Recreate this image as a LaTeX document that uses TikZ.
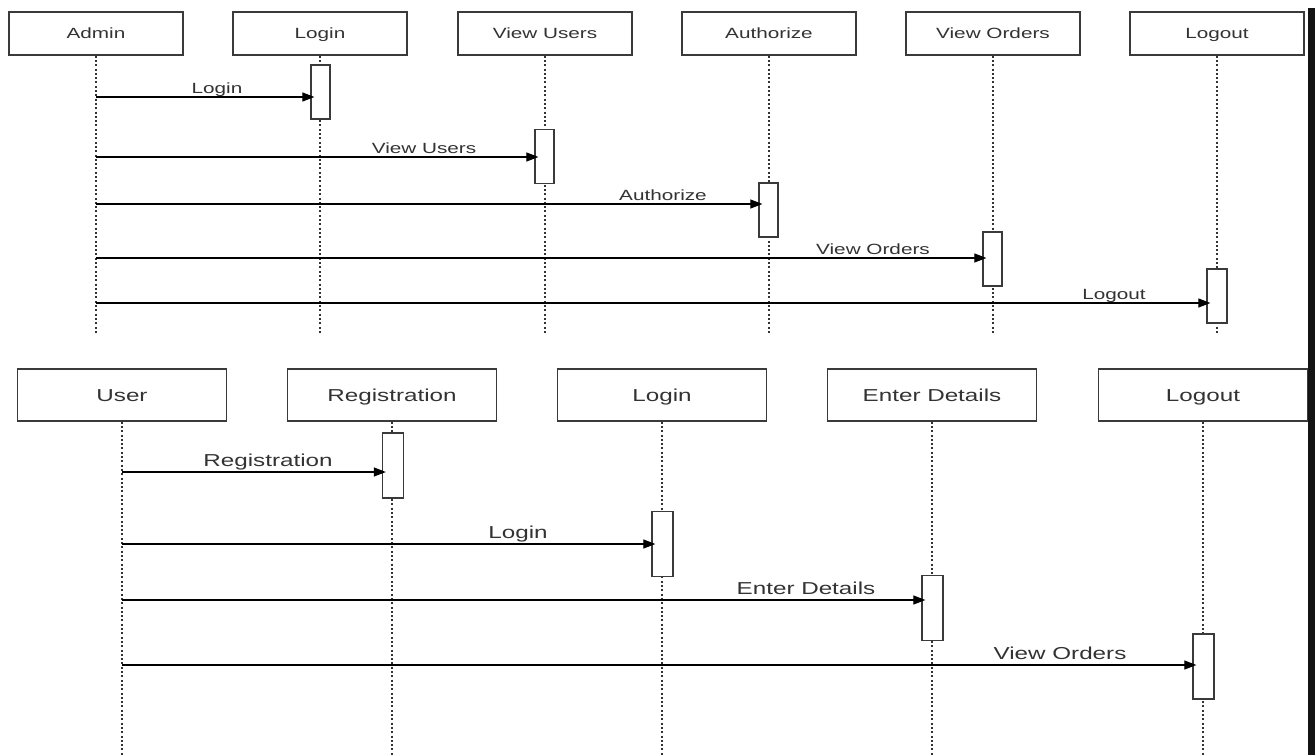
\documentclass[tikz,border=0pt]{standalone}
\usepackage{fontspec}
\setmainfont{Liberation Sans}
\newfontfamily\diagfont[FakeStretch=1.4]{Liberation Sans}
\usetikzlibrary{arrows.meta}
\definecolor{txt}{HTML}{333333}
\definecolor{edge}{HTML}{3A3A3A}
\begin{document}
\begin{tikzpicture}[x=1pt,y=-1pt,
  objtop/.style={draw=edge,line width=1.3pt,fill=white,minimum width=174pt,minimum height=43pt,
    inner sep=0pt,text height=10.6pt,text depth=0pt,text=txt,font=\diagfont\fontsize{14.8}{16}\selectfont},
  objbot/.style={draw=edge,line width=1.3pt,fill=white,minimum width=209pt,minimum height=52pt,
    inner sep=0pt,text height=12.4pt,text depth=0pt,text=txt,font=\diagfont\fontsize{17.3}{19}\selectfont},
  acttop/.style={draw=edge,line width=1.3pt,fill=white,minimum width=19pt,minimum height=54pt,inner sep=0pt},
  actbot/.style={draw=edge,line width=1.3pt,fill=white,minimum width=21pt,minimum height=65pt,inner sep=0pt},
  lifeline/.style={line width=1.7pt,black!80,dash pattern=on 2pt off 2.3pt},
  msg/.style={line width=1.2pt,black,-{Triangle[length=12pt,width=9pt]},shorten >=-4pt},
  lbltop/.style={anchor=base,inner sep=0pt,text=txt,font=\diagfont\fontsize{14.8}{16}\selectfont},
  lblbot/.style={anchor=base,inner sep=0pt,text=txt,font=\diagfont\fontsize{17.3}{19}\selectfont}]
\useasboundingbox (0,0) rectangle (1315,755);
\fill[white] (0,0) rectangle (1315,755);

% ---------- Admin sequence ----------
\node[objtop] (admin)  at (96,33.5)   {Admin};
\node[objtop] (alogin) at (320,33.5)  {Login};
\node[objtop] (aview)  at (545,33.5)  {View Users};
\node[objtop] (aauth)  at (769,33.5)  {Authorize};
\node[objtop] (aord)   at (993,33.5)  {View Orders};
\node[objtop] (alogo)  at (1217,33.5) {Logout};

\foreach \n in {admin,alogin,aview,aauth,aord,alogo}
  \draw[lifeline] (\n.south) -- (\n.south |- 0,335);

\node[acttop] (act1) at (320.5,92)  {};
\node[acttop] (act2) at (544.5,156.5) {};
\node[acttop] (act3) at (768.5,210) {};
\node[acttop] (act4) at (992.5,259) {};
\node[acttop,minimum width=20pt] (act5) at (1217,296) {};

\coordinate (m1) at (96,97);
\coordinate (m2) at (96,157);
\coordinate (m3) at (96,204);
\coordinate (m4) at (96,258);
\coordinate (m5) at (96,303);
\draw[msg] (m1) -- (m1 -| act1.west);
\draw[msg] (m2) -- (m2 -| act2.west);
\draw[msg] (m3) -- (m3 -| act3.west);
\draw[msg] (m4) -- (m4 -| act4.west);
\draw[msg] (m5) -- (m5 -| act5.west);

\node[lbltop] (l1) at (217,93)   {Login};
\node[lbltop] (l2) at (424,153)  {View Users};
\node[lbltop] (l3) at (663,200)  {Authorize};
\node[lbltop] (l4) at (873,254)  {View Orders};
\node[lbltop] (l5) at (1114,299) {Logout};

% ---------- User sequence ----------
\node[objbot] (user)  at (122,395)  {User};
\node[objbot] (ureg)  at (392,395)  {Registration};
\node[objbot] (ulog)  at (662,395)  {Login};
\node[objbot] (udet)  at (932,395)  {Enter Details};
\node[objbot] (uout)  at (1203,395) {Logout};

\foreach \n in {user,ureg,ulog,udet,uout}
  \draw[lifeline] (\n.south) -- (\n.south |- 0,755);

\node[actbot] (b1) at (393,465.5) {};
\node[actbot] (b2) at (662.5,544)  {};
\node[actbot] (b3) at (932.5,608)  {};
\node[actbot] (b4) at (1203.5,666.5) {};

\coordinate (n1) at (122,472);
\coordinate (n2) at (122,544);
\coordinate (n3) at (122,600);
\coordinate (n4) at (122,665);
\draw[msg] (n1) -- (n1 -| b1.west);
\draw[msg] (n2) -- (n2 -| b2.west);
\draw[msg] (n3) -- (n3 -| b3.west);
\draw[msg] (n4) -- (n4 -| b4.west);

\node[lblbot] (k1) at (268,466)  {Registration};
\node[lblbot] (k2) at (518,538)  {Login};
\node[lblbot] (k3) at (806,594)  {Enter Details};
\node[lblbot] (k4) at (1060,659) {View Orders};

% dark strip along the right edge
\fill[black!92] (1308,8) rectangle (1315,755);
\end{tikzpicture}
\end{document}
